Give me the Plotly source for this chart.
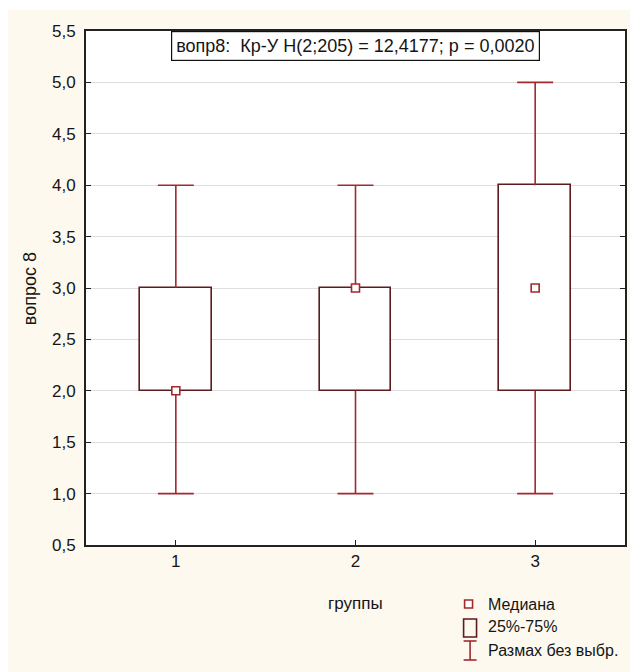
import plotly.graph_objects as go

# ---- data ----
groups = [1, 2, 3]
group_labels = ["1", "2", "3"]
mins = [1.0, 1.0, 1.0]
q1s = [2.0, 2.0, 2.0]
medians = [2.0, 3.0, 3.0]
q3s = [3.0, 3.0, 4.0]
maxs = [4.0, 4.0, 5.0]
y_ticks = [0.5, 1.0, 1.5, 2.0, 2.5, 3.0, 3.5, 4.0, 4.5, 5.0, 5.5]

title_text = "вопр8:  Кр-У H(2;205) = 12,4177; p = 0,0020"
x_title = "группы"
y_title = "вопрос 8"
legend_labels = ["Медиана", "25%-75%", "Размах без выбр."]

# ---- style ----
BOX_COLOR = "#5e1a1c"
WHISK_COLOR = "#a3282c"
MED_COLOR = "#a3282c"
CREAM = "#fdf9ef"
FONT = "Liberation Sans, Arial, sans-serif"
TXT = "#151515"
BOX_W = 0.4
CAP_HALF = 0.1

OFF = 8  # page body margin offset
W, H = 638 - OFF, 672 - OFF
L, R, T, B = 86 - OFF, 11, 31 - OFF, 127
PW, PH = W - L - R, H - T - B


def px(xp):
    return (xp - OFF - L) / PW


def py(yp):
    return (H - B - (yp - OFF)) / PH


fig = go.Figure()

# boxes (25%-75%)
fig.add_trace(go.Bar(
    x=groups,
    y=[q3 - q1 for q1, q3 in zip(q1s, q3s)],
    base=q1s,
    width=BOX_W,
    marker=dict(color="white", line=dict(color=BOX_COLOR, width=1.6)),
    showlegend=False,
    hoverinfo="skip",
))

# whiskers built from data
wx, wy = [], []
for g, lo, q1, q3, hi in zip(groups, mins, q1s, q3s, maxs):
    wx += [g, g, None, g - CAP_HALF, g + CAP_HALF, None,
           g, g, None, g - CAP_HALF, g + CAP_HALF, None]
    wy += [q3, hi, None, hi, hi, None,
           q1, lo, None, lo, lo, None]
fig.add_trace(go.Scatter(
    x=wx, y=wy, mode="lines",
    line=dict(color=WHISK_COLOR, width=1.6),
    showlegend=False, hoverinfo="skip",
))

# medians
fig.add_trace(go.Scatter(
    x=groups, y=medians, mode="markers",
    marker=dict(symbol="square", size=8, color="white",
                line=dict(color=MED_COLOR, width=1.6)),
    showlegend=False,
))

shapes = [
    # white strip at the very top
    dict(type="rect", xref="paper", yref="paper",
         x0=px(0), x1=px(640), y0=py(10), y1=py(0),
         fillcolor="white", line=dict(width=0), layer="below"),
]

# legend icons
shapes.append(dict(type="rect", xref="paper", yref="paper",
                   x0=px(466), x1=px(474), y0=py(608), y1=py(600),
                   line=dict(color=MED_COLOR, width=1.6), fillcolor="white"))
shapes.append(dict(type="rect", xref="paper", yref="paper",
                   x0=px(465), x1=px(478), y0=py(637), y1=py(619),
                   line=dict(color=BOX_COLOR, width=1.6), fillcolor=CREAM))
for (x0, y0, x1, y1) in [(465, 641, 478, 641), (471.5, 641, 471.5, 660), (465, 660, 478, 660)]:
    shapes.append(dict(type="line", xref="paper", yref="paper",
                       x0=px(x0), x1=px(x1), y0=py(y0), y1=py(y1),
                       line=dict(color=WHISK_COLOR, width=1.6)))

annotations = [
    dict(text=title_text, xref="paper", yref="paper",
         x=px(357), y=py(46), xanchor="center", yanchor="middle",
         showarrow=False, font=dict(family=FONT, size=18, color=TXT),
         bgcolor="white", bordercolor="#111", borderwidth=1.2, borderpad=4),
    dict(text=x_title, xref="paper", yref="paper",
         x=px(356), y=py(603), xanchor="center", yanchor="middle",
         showarrow=False, font=dict(family=FONT, size=17, color=TXT)),
    dict(text=y_title, xref="paper", yref="paper",
         x=px(30), y=py(289), xanchor="center", yanchor="middle",
         textangle=-90, showarrow=False, font=dict(family=FONT, size=18, color=TXT)),
]
for lbl, yy in zip(legend_labels, [604, 627, 650]):
    annotations.append(dict(text=lbl, xref="paper", yref="paper",
                            x=px(487), y=py(yy),
                            xanchor="left", yanchor="middle", showarrow=False,
                            font=dict(family=FONT, size=16, color=TXT)))

fig.update_layout(
    width=W, height=H,
    margin=dict(l=L, r=R, t=T, b=B),
    paper_bgcolor=CREAM,
    plot_bgcolor="white",
    separators=", ",
    shapes=shapes,
    annotations=annotations,
    bargap=0,
    font=dict(family=FONT, size=17, color=TXT),
)
fig.update_xaxes(
    range=[0.5, 3.5], tickmode="array", tickvals=groups, ticktext=group_labels,
    showgrid=False, zeroline=False, showline=True, mirror=True,
    linecolor="#222", linewidth=2, ticks="inside", ticklen=5, tickcolor="#222",
    tickfont=dict(family=FONT, size=17, color=TXT),
)
fig.update_yaxes(
    range=[0.5, 5.5], tickmode="array", tickvals=y_ticks, tickformat=".1f",
    showgrid=True, gridcolor="#dedede", gridwidth=1, zeroline=False,
    showline=True, mirror="ticks", linecolor="#222", linewidth=2,
    ticks="inside", ticklen=5, tickcolor="#222", ticklabelstandoff=5,
    tickfont=dict(family=FONT, size=17, color=TXT),
)

fig.write_html("out.html")
